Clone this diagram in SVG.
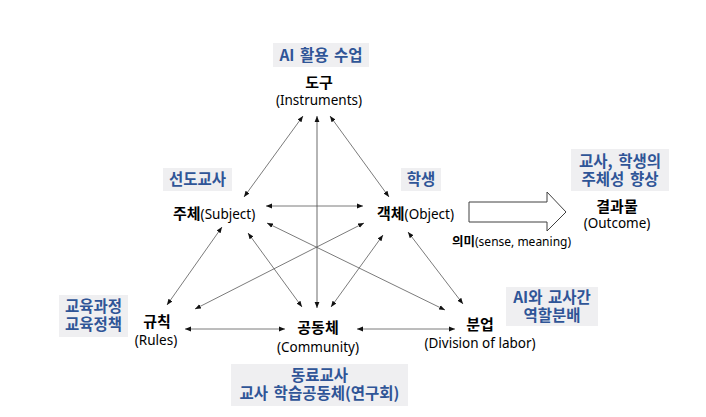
<svg xmlns="http://www.w3.org/2000/svg" width="706" height="417" viewBox="0 0 706 417">
<style>
.ko{font-family:"Noto Sans CJK KR","Noto Sans",sans-serif;font-weight:bold;font-size:15px}
.en{font-family:"Noto Sans","Noto Sans CJK KR",sans-serif;font-size:13.5px}
.tag{fill:#EFEFF1}
.tagt{font-family:"Noto Sans CJK KR","Noto Sans",sans-serif;font-weight:bold;font-size:15.5px;fill:#2F5597;text-anchor:middle}
.c{stroke:#595959;stroke-width:0.8;fill:none;marker-start:url(#a);marker-end:url(#a)}
</style>
<defs>
<marker id="a" viewBox="0 0 10 10" refX="10" refY="5" markerWidth="6" markerHeight="6" markerUnits="userSpaceOnUse" orient="auto-start-reverse">
<path d="M0,1 L10,5 L0,9 z" fill="#111"/>
</marker>
</defs>
<rect width="706" height="417" fill="#fff"/>

<g id="connectors">
<line class="c" x1="244" y1="197" x2="303" y2="116"/>
<line class="c" x1="389" y1="197" x2="330" y2="116"/>
<line x1="317" y1="308" x2="317" y2="116" stroke="#B5B5B5" stroke-width="2" marker-start="url(#a)" marker-end="url(#a)"/>
<line class="c" x1="266" y1="206" x2="363" y2="206"/>
<line class="c" x1="222" y1="227" x2="167" y2="305"/>
<line class="c" x1="364" y1="223" x2="195" y2="309"/>
<line class="c" x1="248" y1="233" x2="302" y2="307"/>
<line class="c" x1="267" y1="223" x2="445" y2="310"/>
<line class="c" x1="383" y1="235" x2="331" y2="307"/>
<line class="c" x1="408" y1="232" x2="463" y2="304"/>
<line class="c" x1="185" y1="329" x2="285" y2="329"/>
<line class="c" x1="357" y1="329" x2="455" y2="329"/>
<polygon points="469,202 547,202 547,192 566,212 547,231 547,222 469,222" fill="#fff" stroke="#404040" stroke-width="1"/>
</g>

<g id="instruments">
<rect class="tag" x="273" y="43" width="96" height="24"/>
<text class="tagt" x="321" y="61" word-spacing="2">AI 활용 수업</text>
<text class="ko" x="319" y="88" text-anchor="middle">도구</text>
<text class="en" x="319" y="105" text-anchor="middle">(Instruments)</text>
</g>

<g id="subject">
<rect class="tag" x="163" y="168" width="69" height="23"/>
<text class="tagt" x="197.5" y="185">선도교사</text>
<text x="173" y="219"><tspan class="ko">주체</tspan><tspan class="en">(Subject)</tspan></text>
</g>

<g id="object">
<rect class="tag" x="401" y="168" width="40" height="23"/>
<text class="tagt" x="421" y="185">학생</text>
<text x="377" y="219"><tspan class="ko">객체</tspan><tspan class="en">(Object)</tspan></text>
</g>

<g id="outcome">
<rect class="tag" x="571" y="149" width="98" height="42"/>
<text class="tagt" x="620" y="167" word-spacing="2">교사, 학생의</text>
<text class="tagt" x="620" y="185" word-spacing="2">주체성 향상</text>
<text class="ko" x="617" y="212" text-anchor="middle">결과물</text>
<text class="en" x="617" y="228" text-anchor="middle">(Outcome)</text>
</g>

<g id="meaning">
<text x="452" y="246"><tspan font-family="Noto Sans CJK KR, sans-serif" font-weight="bold" font-size="12.5">의미</tspan><tspan font-family="Noto Sans, Noto Sans CJK KR, sans-serif" font-size="12">(sense, meaning)</tspan></text>
</g>

<g id="rules">
<rect class="tag" x="59" y="295" width="69" height="42"/>
<text class="tagt" x="93.5" y="312">교육과정</text>
<text class="tagt" x="93.5" y="330">교육정책</text>
<text class="ko" x="157" y="327" text-anchor="middle">규칙</text>
<text class="en" x="156" y="345" text-anchor="middle">(Rules)</text>
</g>

<g id="community">
<rect class="tag" x="231" y="364" width="177" height="42"/>
<text class="tagt" x="319.5" y="381">동료교사</text>
<text class="tagt" x="319.5" y="399" word-spacing="2">교사 학습공동체(연구회)</text>
<text class="ko" x="318" y="333" text-anchor="middle">공동체</text>
<text class="en" x="318" y="352" text-anchor="middle">(Community)</text>
</g>

<g id="division">
<rect class="tag" x="506" y="287" width="92" height="39"/>
<text class="tagt" x="552" y="303" word-spacing="2">AI와 교사간</text>
<text class="tagt" x="552" y="321">역할분배</text>
<text class="ko" x="480" y="330" text-anchor="middle">분업</text>
<text class="en" x="480" y="348" text-anchor="middle">(Division of labor)</text>
</g>
</svg>
